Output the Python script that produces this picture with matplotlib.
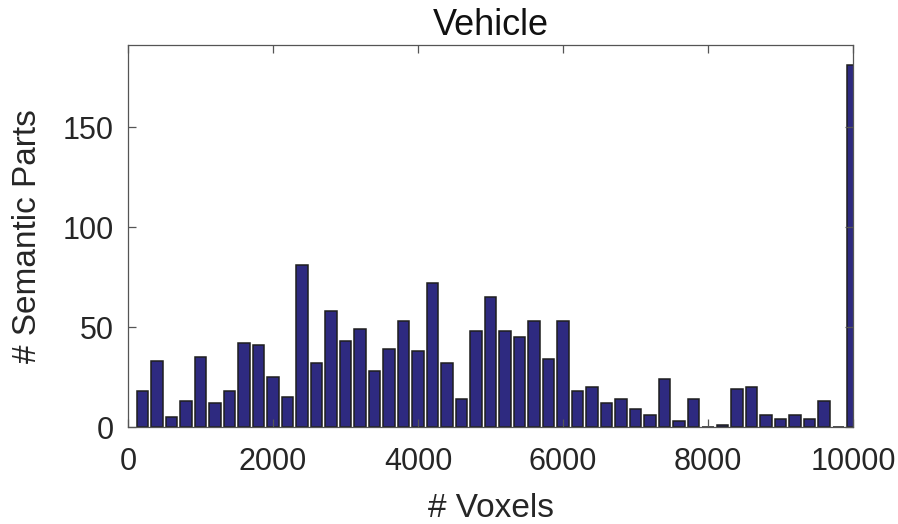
import numpy as np
import matplotlib
matplotlib.use("Agg")
from matplotlib import pyplot as plt

# histogram of part sizes, 50 bins of 200 voxels
bin_centers = np.arange(200, 10001, 200)
counts = [18, 33, 5, 13, 35, 12, 18, 42, 41, 25,
          15, 81, 32, 58, 43, 49, 28, 39, 53, 38,
          72, 32, 14, 48, 65, 48, 45, 53, 34, 53,
          18, 20, 12, 14, 9, 6, 24, 3, 14, 0,
          1, 19, 20, 6, 4, 6, 4, 13, 0, 181]
x_ticks = [0, 2000, 4000, 6000, 8000, 10000]
y_ticks = [0, 50, 100, 150]

plt.rcParams['font.family'] = ['Liberation Sans', 'DejaVu Sans']

fig = plt.figure(figsize=(8.98, 5.24), dpi=100)
ax = fig.add_axes([0.1425, 0.185, 0.8075, 0.729])

ax.bar(bin_centers, counts, width=160, color='#2e2a80', edgecolor='#1e1e1e', linewidth=1.1)

ax.set_xlim(0, 10000)
ax.set_ylim(0, 191)
ax.set_xticks(x_ticks)
ax.set_yticks(y_ticks)
ax.tick_params(direction='in', length=6, width=0.9, colors='#555555',
               labelcolor='#262626', labelsize=22, top=True, right=True)
ax.tick_params(axis='x', pad=14)
ax.tick_params(axis='y', pad=10)
for s in ax.spines.values():
    s.set_color('#555555')
    s.set_linewidth(0.9)

ax.set_title('Vehicle', fontsize=26, color='#111111', pad=7)
ax.set_xlabel('# Voxels', fontsize=24, color='#262626', labelpad=12)
ax.set_ylabel('# Semantic Parts', fontsize=24, color='#262626', labelpad=14)

fig.savefig('out.png', dpi=100)
